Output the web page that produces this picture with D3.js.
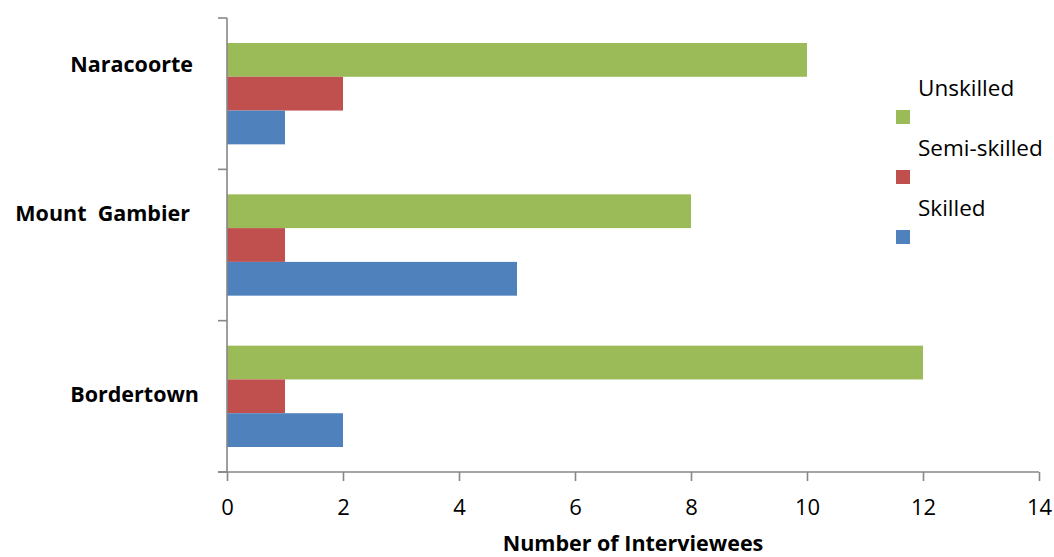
<!DOCTYPE html>
<html><head><meta charset="utf-8">
<script src="https://cdn.jsdelivr.net/npm/d3@7"></script>
<style>html,body{margin:0;padding:0;background:#fff;}svg{display:block;}</style>
</head><body>
<svg id="chart" width="1054" height="557"></svg>
<script>
const categories = ["Naracoorte", "Mount  Gambier", "Bordertown"];
const seriesNames = ["Unskilled", "Semi-skilled", "Skilled"];
const unskilled = [10, 8, 12];
const semiSkilled = [2, 1, 1];
const skilled = [1, 5, 2];
const xTicks = [0, 2, 4, 6, 8, 10, 12, 14];
const xTitle = "Number of Interviewees";

const colors = {"Unskilled": "#9BBB59", "Semi-skilled": "#C0504D", "Skilled": "#4F81BD"};
const seriesValues = {"Unskilled": unskilled, "Semi-skilled": semiSkilled, "Skilled": skilled};

const svg = d3.select("#chart");
const font = "'Open Sans', sans-serif";
const axisColor = "#878787";

const x = d3.scaleLinear().domain([0, 14]).range([227, 1039]);
const y = d3.scaleBand().domain(categories).range([18, 472]).padding(0);
const yInner = d3.scaleBand().domain(seriesNames).range([0, y.bandwidth()]).paddingInner(0).paddingOuter(0.74);

// bars
const groups = svg.append("g").selectAll("g").data(categories).join("g")
  .attr("transform", d => `translate(0,${y(d)})`);
groups.selectAll("rect").data((d, i) => seriesNames.map(s => ({s, v: seriesValues[s][i]})))
  .join("rect")
  .attr("x", x(0))
  .attr("y", d => yInner(d.s))
  .attr("width", d => x(d.v) - x(0))
  .attr("height", yInner.bandwidth())
  .attr("fill", d => colors[d.s]);

// x axis
const xAxis = svg.append("g").attr("transform", "translate(0,472)")
  .call(d3.axisBottom(x).tickValues(xTicks).tickSize(9).tickSizeOuter(0).tickPadding(18));
xAxis.select(".domain").attr("stroke", axisColor).attr("stroke-width", 1.6)
  .attr("d", `M${x(0) - 9},0H${x(14)}`);
xAxis.selectAll(".tick line").attr("stroke", axisColor).attr("stroke-width", 1.6);
xAxis.selectAll(".tick text").attr("font-family", font).attr("font-size", 22).attr("fill", "#000");

// y axis line and ticks at band boundaries
const yBounds = categories.map(c => y(c)).concat([y(categories[categories.length - 1]) + y.bandwidth()]);
svg.append("line").attr("x1", x(0)).attr("x2", x(0)).attr("y1", yBounds[0]).attr("y2", yBounds[yBounds.length - 1])
  .attr("stroke", axisColor).attr("stroke-width", 1.6);
svg.append("g").selectAll("line").data(yBounds).join("line")
  .attr("x1", x(0) - 9).attr("x2", x(0)).attr("y1", d => d).attr("y2", d => d)
  .attr("stroke", axisColor).attr("stroke-width", 1.6);

// category labels (manually offset as in the reference)
const labelNudge = [{dx: 193, dy: -22}, {dx: 190, dy: -24}, {dx: 199, dy: 6}];
svg.append("g").selectAll("text").data(categories).join("text")
  .attr("x", (d, i) => labelNudge[i].dx)
  .attr("y", (d, i) => y(d) + y.bandwidth() / 2 + labelNudge[i].dy)
  .attr("text-anchor", "end")
  .attr("font-family", font).attr("font-weight", "bold").attr("font-size", 21.5)
  .attr("fill", "#000")
  .style("white-space", "pre")
  .text(d => d);

// x title
svg.append("text").attr("x", 633).attr("y", 551).attr("text-anchor", "middle")
  .attr("font-family", font).attr("font-weight", "bold").attr("font-size", 21.5).attr("fill", "#000")
  .text(xTitle);

// legend
const legend = svg.append("g").selectAll("g").data(seriesNames).join("g")
  .attr("transform", (d, i) => `translate(0,${i * 60})`);
legend.append("rect").attr("x", 896).attr("y", 110).attr("width", 14).attr("height", 14)
  .attr("fill", d => colors[d]);
legend.append("text").attr("x", 918).attr("y", 96)
  .attr("font-family", font).attr("font-size", 22.5).attr("fill", "#000")
  .text(d => d);
</script>
</body></html>
